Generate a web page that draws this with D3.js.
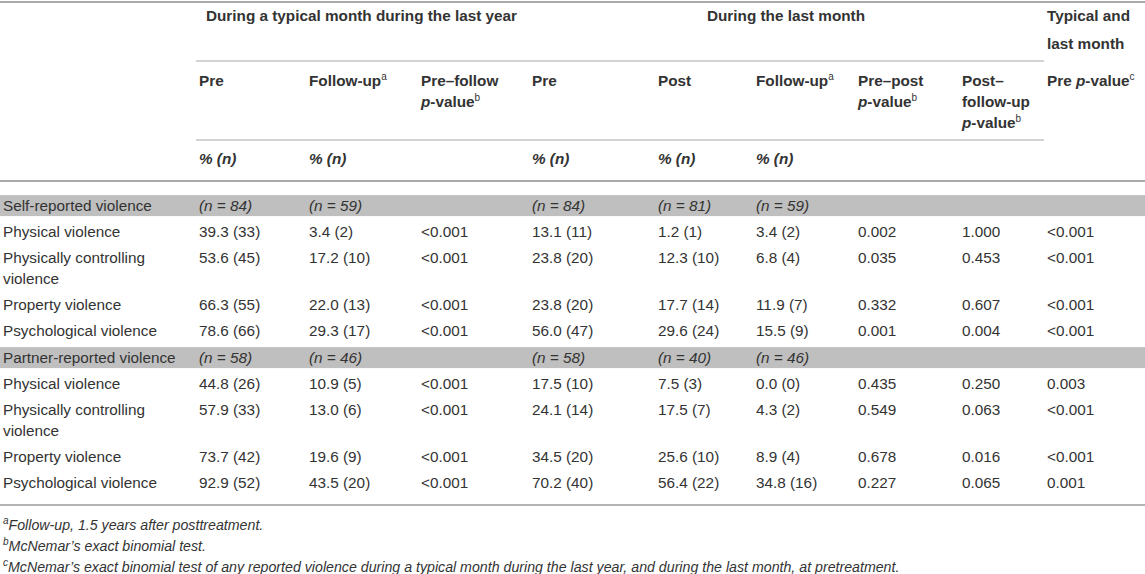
<!DOCTYPE html>
<html>
<head>
<meta charset="utf-8">
<script src="https://cdn.jsdelivr.net/npm/d3@7"></script>
<style>
  body { margin: 0; background: #fff; }
  svg { display: block; }
</style>
</head>
<body>
<svg id="chart"></svg>
<script>
// Canvas size
const width = 1145;
const height = 574;

// Table content. Markup: "\n" = new line, _x_ = italic, ^x^ = superscript
const columns = ["label", "pre1", "fu1", "p1", "pre2", "post2", "fu2", "p2", "p3", "p4"];
const groupHeaders = ["During a typical month during the last year", "During the last month"];
const lastGroupHeader = ["Typical and", "last month"];
const subHeaders = ["", "Pre", "Follow-up^a^", "Pre–follow\n_p_-value^b^", "Pre", "Post",
                    "Follow-up^a^", "Pre–post\n_p_-value^b^", "Post–\nfollow-up\n_p_-value^b^", "Pre _p_-value^c^"];
const unitRow = ["", "% (n)", "% (n)", "", "% (n)", "% (n)", "% (n)", "", "", ""];

const categories = ["Physical violence", "Physically controlling\nviolence", "Property violence", "Psychological violence"];

const selfSample = ["Self-reported violence", "(n = 84)", "(n = 59)", "", "(n = 84)", "(n = 81)", "(n = 59)", "", "", ""];
const selfValues = [
  ["39.3 (33)", "3.4 (2)", "<0.001", "13.1 (11)", "1.2 (1)", "3.4 (2)", "0.002", "1.000", "<0.001"],
  ["53.6 (45)", "17.2 (10)", "<0.001", "23.8 (20)", "12.3 (10)", "6.8 (4)", "0.035", "0.453", "<0.001"],
  ["66.3 (55)", "22.0 (13)", "<0.001", "23.8 (20)", "17.7 (14)", "11.9 (7)", "0.332", "0.607", "<0.001"],
  ["78.6 (66)", "29.3 (17)", "<0.001", "56.0 (47)", "29.6 (24)", "15.5 (9)", "0.001", "0.004", "<0.001"]
];

const partnerSample = ["Partner-reported violence", "(n = 58)", "(n = 46)", "", "(n = 58)", "(n = 40)", "(n = 46)", "", "", ""];
const partnerValues = [
  ["44.8 (26)", "10.9 (5)", "<0.001", "17.5 (10)", "7.5 (3)", "0.0 (0)", "0.435", "0.250", "0.003"],
  ["57.9 (33)", "13.0 (6)", "<0.001", "24.1 (14)", "17.5 (7)", "4.3 (2)", "0.549", "0.063", "<0.001"],
  ["73.7 (42)", "19.6 (9)", "<0.001", "34.5 (20)", "25.6 (10)", "8.9 (4)", "0.678", "0.016", "<0.001"],
  ["92.9 (52)", "43.5 (20)", "<0.001", "70.2 (40)", "56.4 (22)", "34.8 (16)", "0.227", "0.065", "0.001"]
];

const footnotes = [
  "^a^Follow-up, 1.5 years after posttreatment.",
  "^b^McNemar’s exact binomial test.",
  "^c^McNemar’s exact binomial test of any reported violence during a typical month during the last year, and during the last month, at pretreatment."
];

// Layout
const font = "'Liberation Sans', Arial, Helvetica, sans-serif";
const textColor = "#333";
const lineH = 21;       // line spacing inside a cell
const rowPad = 5.2;     // extra height of a body row

const x = d3.scaleOrdinal()
    .domain(columns)
    .range([3, 199, 309, 421, 532, 658, 756, 858, 962, 1047]);
const groupLeft = 196, groupRight = 1044;

const svg = d3.select("#chart")
    .attr("width", width)
    .attr("height", height)
    .style("font-family", font)
    .style("font-size", "15.3px")
    .style("fill", textColor);

// Write one cell of marked-up text, one <text> per line
function richText(parent, str, xPos, yBase, opts = {}) {
  str.split("\n").forEach((line, i) => {
    const t = parent.append("text")
        .attr("x", xPos)
        .attr("y", yBase + i * lineH)
        .attr("text-anchor", opts.anchor || "start")
        .style("font-weight", opts.bold ? "bold" : "normal")
        .style("font-style", opts.italic ? "italic" : "normal")
        .style("font-size", opts.size ? opts.size + "px" : null);
    let raised = false;
    line.split(/(_[^_]+_|\^[^^]+\^)/).filter(s => s).forEach(tok => {
      const span = t.append("tspan");
      if (tok[0] === "^") {
        span.text(tok.slice(1, -1))
            .attr("dy", -6)
            .style("font-size", "10px")
            .style("font-weight", "normal");
        raised = true;
      } else {
        if (raised) { span.attr("dy", 6); raised = false; }
        if (tok[0] === "_") span.text(tok.slice(1, -1)).style("font-style", "italic");
        else span.text(tok);
      }
    });
  });
}

function hLine(y, x1, x2, color, w) {
  svg.append("line")
      .attr("x1", x1).attr("x2", x2)
      .attr("y1", y).attr("y2", y)
      .attr("stroke", color)
      .attr("stroke-width", w);
}

// Header rules
hLine(2, 0, width, "#a9a9a9", 2);
hLine(61, groupLeft, groupRight, "#c4c4c4", 1.5);
hLine(140, groupLeft, groupRight, "#c4c4c4", 1.5);
hLine(181, 0, width, "#a9a9a9", 2);

// Group headers (centered over their columns)
const head = svg.append("g");
richText(head, groupHeaders[0], (x("pre1") + x("pre2") - 8) / 2, 21, { bold: true, anchor: "middle" });
richText(head, groupHeaders[1], (x("pre2") + groupRight) / 2 - 2, 21, { bold: true, anchor: "middle" });
lastGroupHeader.forEach((l, i) => richText(head, l, x("p4"), 21 + i * 28, { bold: true }));

// Sub headers and unit row
columns.forEach((c, i) => {
  if (subHeaders[i]) richText(head, subHeaders[i], x(c), 86, { bold: true });
  if (unitRow[i]) richText(head, unitRow[i], x(c), 164, { bold: true, italic: true });
});

// Body rows: section header row followed by the category rows
const sections = [
  { sample: selfSample, values: selfValues },
  { sample: partnerSample, values: partnerValues }
];

const bodyRows = [];
sections.forEach(s => {
  bodyRows.push({ cells: s.sample, shaded: true });
  s.values.forEach((v, i) => bodyRows.push({ cells: [categories[i], ...v], shaded: false }));
});

let yCursor = 192.5;
bodyRows.forEach(r => {
  const nLines = d3.max(r.cells, c => c.split("\n").length);
  r.top = yCursor;
  r.h = nLines * lineH + rowPad;
  yCursor += r.h;
});

const rowG = svg.append("g")
  .selectAll("g")
  .data(bodyRows)
  .join("g")
    .attr("transform", d => `translate(0,${d.top})`);

rowG.filter(d => d.shaded)
  .append("rect")
    .attr("x", 0)
    .attr("y", d => (d.h - lineH) / 2)
    .attr("width", width)
    .attr("height", lineH)
    .attr("fill", "#bfbfbf");

rowG.each(function(d) {
  const g = d3.select(this);
  d.cells.forEach((c, i) => {
    if (!c) return;
    const italic = d.shaded && i > 0;
    richText(g, c, x(columns[i]), rowPad / 2 + lineH / 2 + 5, { italic });
  });
});

// Bottom rule and footnotes
hLine(505, 0, width, "#b3b3b3", 2);
footnotes.forEach((f, i) => richText(svg, f, 3, 529.5 + i * 21, { italic: true, size: 14.2 }));
</script>
</body>
</html>
